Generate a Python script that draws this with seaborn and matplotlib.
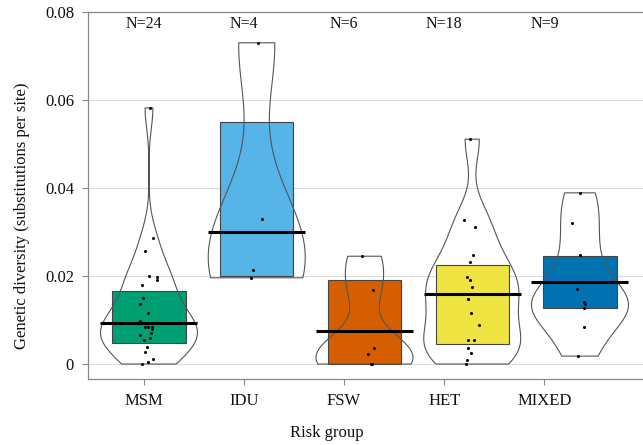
import numpy as np
import pandas as pd
import matplotlib
matplotlib.use("Agg")
import matplotlib.pyplot as plt
import matplotlib.transforms as mtransforms
import seaborn as sns

# ---- data ----
groups = ["MSM", "IDU", "FSW", "HET", "MIXED"]
colors = ["#009E73", "#56B4E9", "#D55E00", "#F0E442", "#0072B2"]

msm = [0.0582, 0.0287, 0.0257, 0.0200, 0.0198, 0.0191, 0.0180, 0.0150, 0.0136,
       0.0116, 0.0098, 0.0085, 0.0085, 0.0085, 0.0080, 0.0070, 0.0066, 0.0059,
       0.0055, 0.0039, 0.0027, 0.0012, 0.0005, 0.0000]
idu = [0.0730, 0.0330, 0.0214, 0.0196]
fsw = [0.0245, 0.0169, 0.0036, 0.0023, 0.0000, 0.0000]
het = [0.0511, 0.0327, 0.0312, 0.0248, 0.0232, 0.0198, 0.0192, 0.0176, 0.0148,
       0.0148, 0.0116, 0.0089, 0.0055, 0.0055, 0.0036, 0.0024, 0.0009, 0.0000]
mixed = [0.0389, 0.0320, 0.0247, 0.0171, 0.0141, 0.0137, 0.0127, 0.0085, 0.0018]

box_low = [0.0048, 0.0200, 0.0000, 0.0045, 0.0127]
box_high = [0.0166, 0.0550, 0.0191, 0.0225, 0.0245]
box_median = [0.0093, 0.0300, 0.0075, 0.0159, 0.0186]

n_labels = ["N=24", "N=4", "N=6", "N=18", "N=9"]
ytick_vals = [0, 0.02, 0.04, 0.06, 0.08]
ytick_labels = ["0", "0.02", "0.04", "0.06", "0.08"]

# ---- build tables ----
values = [msm, idu, fsw, het, mixed]
df = pd.DataFrame({
    "group": np.repeat(groups, [len(v) for v in values]),
    "value": np.concatenate(values),
})
boxes = pd.DataFrame({"group": groups, "low": box_low,
                      "height": np.array(box_high) - np.array(box_low),
                      "median": box_median})

sns.set_theme(style="white")
plt.rcParams["font.family"] = ["Liberation Serif", "DejaVu Serif"]

fig = plt.figure(figsize=(6.43, 4.45), dpi=100)
ax = fig.add_axes([88 / 643, 1 - 379 / 445, 1 - 88 / 643, (379 - 12) / 445])

# boxes (Q1..Q3) as floating bars
sns.barplot(data=boxes, x="group", y="height", order=groups,
            color=colors[0], bottom=boxes["low"].values, width=0.68,
            edgecolor="#444444", linewidth=0.8, saturation=1,
            ax=ax, zorder=2)
for patch, c in zip(ax.patches, colors):
    patch.set_facecolor(c)

# violins
sns.violinplot(data=df, x="group", y="value", order=groups, cut=0,
               density_norm="width", width=0.9, fill=False, inner=None,
               linewidth=0.8, color="#555555", bw_adjust=0.7, ax=ax,
               zorder=3)

# median lines
pos = np.arange(len(groups))
ax.hlines(boxes["median"], pos - 0.45, pos + 0.45, color="black", lw=2.2,
          zorder=4)

# points
np.random.seed(3)
sns.stripplot(data=df, x="group", y="value", order=groups, color="black",
              size=2.2, jitter=0.09, ax=ax, zorder=5)

# in the reference the category labels sit on a slightly tighter spacing
# than the drawn groups
label_pos = pos * 0.93 - 0.05
ax.set_xticks(label_pos)
ax.set_xticklabels(groups)

# N labels
trans = mtransforms.blended_transform_factory(ax.transData, ax.transAxes)
for x, lab in zip(label_pos, n_labels):
    ax.text(x, 0.968, lab, transform=trans, ha="center", va="center",
            fontsize=11.5, color="#111111")

ax.set_xlim(-0.566, 4.585)
ax.set_ylim(-0.0034, 0.08)
ax.set_yticks(ytick_vals)
ax.set_yticklabels(ytick_labels)
ax.yaxis.grid(True, color="#dcdcdc", lw=0.8)
ax.xaxis.grid(False)
ax.set_axisbelow(True)

for s in ["left", "bottom", "top"]:
    ax.spines[s].set_visible(True)
    ax.spines[s].set_color("#888888")
    ax.spines[s].set_linewidth(0.9)
ax.spines["right"].set_visible(False)

ax.tick_params(axis="both", which="both", length=4, width=0.8,
               color="#888888", labelsize=12, labelcolor="#111111",
               left=True, bottom=True, pad=6)

ax.set_xlabel("Risk group", fontsize=12, color="#111111")
ax.set_ylabel("Genetic diversity (substitutions per site)", fontsize=12,
              color="#111111")
ax.xaxis.set_label_coords(0.43, -0.125)
ax.yaxis.set_label_coords(-0.105, 0.444)

fig.savefig("out.png", dpi=100)
